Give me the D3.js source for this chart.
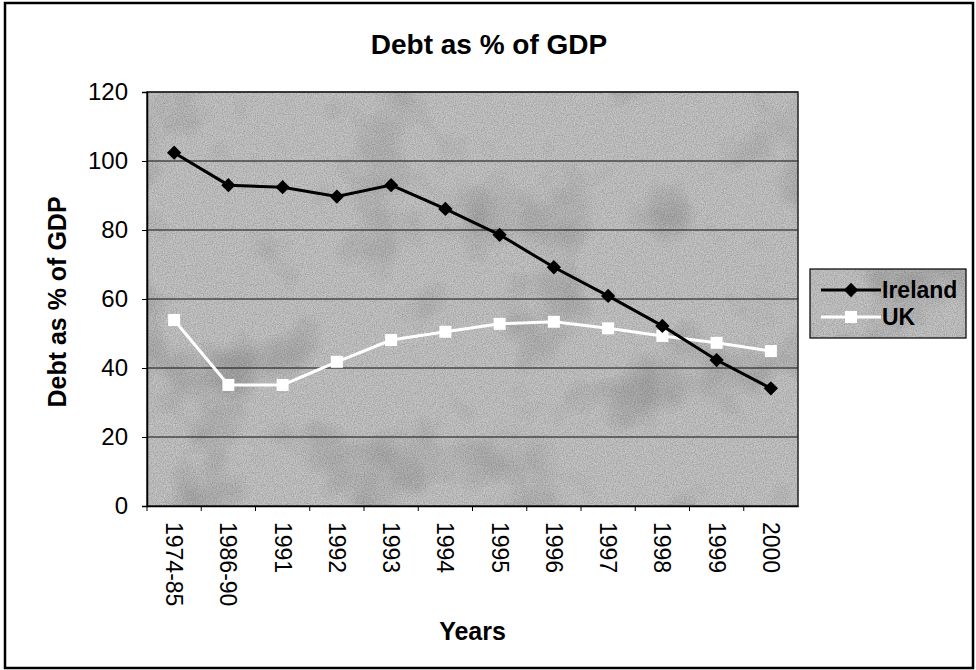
<!DOCTYPE html>
<html>
<head>
<meta charset="utf-8">
<script src="https://cdn.jsdelivr.net/npm/d3@7"></script>
<style>
  body { margin: 0; background: #fff; }
  svg { display: block; font-family: "Liberation Sans", Arial, sans-serif; }
</style>
</head>
<body>
<script>
// data
var years = ["1974-85", "1986-90", "1991", "1992", "1993", "1994", "1995", "1996", "1997", "1998", "1999", "2000"];
var ireland = [102.4, 93.0, 92.4, 89.7, 93.0, 86.1, 78.6, 69.2, 60.9, 52.2, 42.3, 34.1];
var uk = [53.9, 35.1, 35.1, 41.8, 48.1, 50.5, 52.8, 53.4, 51.5, 49.3, 47.3, 44.9];
var yTicks = [0, 20, 40, 60, 80, 100, 120];

var W = 976, H = 670;
// plot box (don't call these top/left, window.top is read only)
var pL = 147, pR = 798, pT = 92, pB = 506;

var svg = d3.select("body").append("svg")
    .attr("width", W)
    .attr("height", H);

// mottled grey background texture
var defs = svg.append("defs");
var f = defs.append("filter").attr("id", "grain")
    .attr("x", 0).attr("y", 0).attr("width", 1).attr("height", 1);
f.append("feTurbulence").attr("type", "fractalNoise")
    .attr("baseFrequency", "0.9").attr("numOctaves", 2).attr("seed", 4);
f.append("feColorMatrix").attr("type", "matrix")
    .attr("values", "0 0 0 0 0  0 0 0 0 0  0 0 0 0 0  0 0 0 -1.1 0.75");
var f2 = defs.append("filter").attr("id", "blotch")
    .attr("x", 0).attr("y", 0).attr("width", 1).attr("height", 1);
f2.append("feTurbulence").attr("type", "fractalNoise")
    .attr("baseFrequency", "0.012").attr("numOctaves", 3).attr("seed", 7);
f2.append("feColorMatrix").attr("type", "matrix")
    .attr("values", "0 0 0 0 0  0 0 0 0 0  0 0 0 0 0  0 0 0 -1.3 0.65");

// outer frame
svg.append("rect")
    .attr("x", 5).attr("y", 3)
    .attr("width", 968).attr("height", 665)
    .attr("fill", "#fff")
    .attr("stroke", "#000")
    .attr("stroke-width", 2.5);

var x = d3.scaleBand().domain(years).range([pL, pR]);
var y = d3.scaleLinear().domain([0, 120]).range([pB, pT]);

function texturedBox(g, x0, y0, w, h) {
  g.append("rect").attr("x", x0).attr("y", y0).attr("width", w).attr("height", h)
      .attr("fill", "#c6c6c6");
  g.append("rect").attr("x", x0).attr("y", y0).attr("width", w).attr("height", h)
      .attr("filter", "url(#blotch)").attr("opacity", 0.35);
  g.append("rect").attr("x", x0).attr("y", y0).attr("width", w).attr("height", h)
      .attr("filter", "url(#grain)").attr("opacity", 0.35);
}

var plot = svg.append("g");
texturedBox(plot, pL, pT, pR - pL, pB - pT);

// gridlines
plot.selectAll("line.grid")
    .data(yTicks.slice(1))
    .enter().append("line")
    .attr("class", "grid")
    .attr("x1", pL).attr("x2", pR)
    .attr("y1", function(d) { return y(d); })
    .attr("y2", function(d) { return y(d); })
    .attr("stroke", "#111")
    .attr("stroke-width", 1.2);

plot.append("rect")
    .attr("x", pL).attr("y", pT)
    .attr("width", pR - pL).attr("height", pB - pT)
    .attr("fill", "none")
    .attr("stroke", "#222")
    .attr("stroke-width", 1.5);

// y axis
var yAxis = svg.append("g")
    .attr("transform", "translate(" + pL + ",0)")
    .call(d3.axisLeft(y).tickValues(yTicks).tickSize(5).tickPadding(14));
yAxis.select(".domain").attr("stroke", "#000").attr("stroke-width", 1.5);
yAxis.selectAll("text").attr("font-size", 24).attr("fill", "#000")
    .attr("font-family", "Liberation Sans, Arial, sans-serif");

// x axis
var xAxis = svg.append("g")
    .attr("transform", "translate(0," + pB + ")")
    .call(d3.axisBottom(x).tickSize(5).tickSizeOuter(0));
xAxis.select(".domain").attr("stroke", "#000").attr("stroke-width", 1.5);
xAxis.selectAll(".tick line")
    .attr("transform", "translate(" + (-x.bandwidth() / 2) + ",0)");
xAxis.selectAll("text")
    .attr("font-size", 23).attr("fill", "#000")
    .attr("font-family", "Liberation Sans, Arial, sans-serif")
    .attr("text-anchor", "start")
    .attr("dy", "0.35em")
    .attr("transform", "translate(0,16) rotate(90)")
    .attr("x", 0).attr("y", 0);

// titles
svg.append("text")
    .attr("x", 489).attr("y", 54)
    .attr("text-anchor", "middle")
    .attr("font-size", 28).attr("font-weight", "bold")
    .text("Debt as % of GDP");

svg.append("text")
    .attr("transform", "translate(66," + 302 + ") rotate(-90)")
    .attr("text-anchor", "middle")
    .attr("font-size", 25).attr("font-weight", "bold")
    .text("Debt as % of GDP");

svg.append("text")
    .attr("x", (pL + pR) / 2).attr("y", 640)
    .attr("text-anchor", "middle")
    .attr("font-size", 25).attr("font-weight", "bold")
    .text("Years");

// series
function cx(d, i) { return x(years[i]) + x.bandwidth() / 2; }
var line = d3.line().x(cx).y(function(d) { return y(d); });

svg.append("path").datum(uk)
    .attr("d", line)
    .attr("fill", "none")
    .attr("stroke", "#fff")
    .attr("stroke-width", 3);
svg.selectAll("rect.uk")
    .data(uk).enter().append("rect")
    .attr("class", "uk")
    .attr("x", function(d, i) { return cx(d, i) - 6; })
    .attr("y", function(d) { return y(d) - 6; })
    .attr("width", 12).attr("height", 12)
    .attr("fill", "#fff");

svg.append("path").datum(ireland)
    .attr("d", line)
    .attr("fill", "none")
    .attr("stroke", "#000")
    .attr("stroke-width", 3);
var diamond = d3.symbol().type(d3.symbolDiamond2).size(130);
svg.selectAll("path.ire")
    .data(ireland).enter().append("path")
    .attr("class", "ire")
    .attr("d", diamond)
    .attr("transform", function(d, i) { return "translate(" + cx(d, i) + "," + y(d) + ")"; })
    .attr("fill", "#000");

// legend
var lg = svg.append("g");
texturedBox(lg, 810, 269, 156, 69);
lg.append("rect").attr("x", 810).attr("y", 269).attr("width", 156).attr("height", 69)
    .attr("fill", "none").attr("stroke", "#000").attr("stroke-width", 1.2);
var series = [
  { name: "Ireland", color: "#000" },
  { name: "UK", color: "#fff" }
];
var rows = lg.selectAll("g.row").data(series).enter().append("g")
    .attr("class", "row")
    .attr("transform", function(d, i) { return "translate(0," + (290 + i * 27) + ")"; });
rows.append("line")
    .attr("x1", 821).attr("x2", 881).attr("y1", 0).attr("y2", 0)
    .attr("stroke", function(d) { return d.color; })
    .attr("stroke-width", 3);
rows.append("path")
    .attr("d", function(d, i) {
      return i === 0 ? diamond() : d3.symbol().type(d3.symbolSquare).size(144)();
    })
    .attr("transform", "translate(851,0)")
    .attr("fill", function(d) { return d.color; });
rows.append("text")
    .attr("x", 882).attr("y", 0).attr("dy", "0.35em")
    .attr("font-size", 23).attr("font-weight", "bold")
    .text(function(d) { return d.name; });
</script>
</body>
</html>
